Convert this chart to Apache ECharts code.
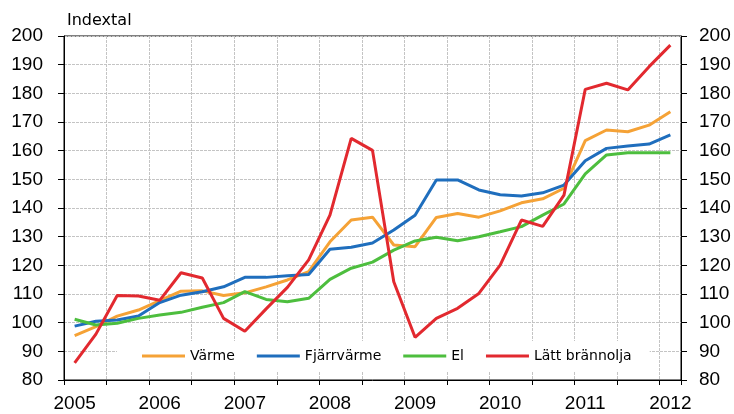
<!DOCTYPE html>
<html>
<head>
<meta charset="utf-8">
<script src="https://cdn.jsdelivr.net/npm/echarts@6/dist/echarts.min.js"></script>
<style>html,body{margin:0;padding:0;background:#fff}#c{width:734px;height:414px}</style>
</head>
<body>
<div id="c"></div>
<script>
const quarters = [];
for (let y = 2005; y <= 2012; y++) {
  for (let q = 1; q <= 4; q++) {
    if (y === 2012 && q > 1) break;
    quarters.push(y + ' Q' + q);
  }
}
const yTicks = {min: 80, max: 200, interval: 10};
const seriesNames = ['Värme', 'Fjärrvärme', 'El', 'Lätt brännolja'];
const varme = [95.5, 98.6, 102.3, 104.4, 107.7, 111.0, 111.1, 109.5, 110.4, 112.5, 114.9, 117.8, 128.2, 135.8, 136.8, 127.1, 126.5, 136.7, 138.1, 136.8, 139.0, 141.8, 143.2, 146.9, 163.5, 167.2, 166.6, 168.9, 173.6];
const fjarrvarme = [98.8, 100.5, 100.9, 102.3, 107.0, 109.6, 110.8, 112.5, 115.8, 115.8, 116.4, 116.8, 125.6, 126.3, 127.8, 132.3, 137.5, 149.8, 149.8, 146.3, 144.6, 144.2, 145.3, 148.0, 156.5, 160.8, 161.6, 162.3, 165.5];
const el = [101.2, 99.2, 99.8, 101.5, 102.7, 103.6, 105.4, 107.0, 110.8, 108.1, 107.3, 108.5, 115.1, 119.0, 121.1, 125.3, 128.5, 129.8, 128.6, 130.0, 131.7, 133.5, 137.5, 141.4, 151.9, 158.5, 159.3, 159.3, 159.3];
const lattBrannolja = [86.0, 96.0, 109.5, 109.3, 107.8, 117.4, 115.6, 101.5, 97.0, 104.8, 112.3, 121.9, 137.5, 164.3, 160.1, 114.3, 94.9, 101.5, 105.0, 110.2, 120.1, 135.8, 133.6, 144.5, 181.4, 183.5, 181.2, 189.3, 196.8];
const colors = ['#F5A236', '#1F6EBD', '#4DBE3E', '#E2292F'];
const dataSets = [varme, fjarrvarme, el, lattBrannolja];

const chart = echarts.init(document.getElementById('c'));
const tickFont = {fontFamily: 'Liberation Sans', fontSize: 19, color: '#000'};
const yCommon = {
  type: 'value', min: yTicks.min, max: yTicks.max, interval: yTicks.interval,
  axisLine: {show: true, lineStyle: {color: '#000', width: 1}},
  axisTick: {show: true, length: 6, lineStyle: {color: '#000'}},
};
chart.setOption({
  animation: false,
  backgroundColor: '#fff',
  grid: {left: 64, right: 53, top: 36, bottom: 34, show: true, borderColor: '#000', borderWidth: 1, backgroundColor: 'transparent'},
  graphic: [{type: 'text', left: 67, top: 13, style: {text: 'Indextal', font: '16px "DejaVu Sans"', fill: '#000'}}],
  legend: {
    data: seriesNames, left: 117, top: 341, orient: 'horizontal',
    backgroundColor: '#fff', padding: [8, 18, 8, 25], itemGap: 22,
    itemWidth: 43, itemHeight: 3, icon: 'rect',
    textStyle: {fontFamily: 'DejaVu Sans', fontSize: 14, color: '#000'}
  },
  xAxis: {
    type: 'category', data: quarters, boundaryGap: true,
    axisLine: {show: true, lineStyle: {color: '#000', width: 1}},
    axisTick: {show: true, interval: 1, length: 5, lineStyle: {color: '#000'}},
    splitLine: {show: true, interval: 1, lineStyle: {color: '#c4c4c4', width: 1, type: [3, 1]}},
    axisLabel: Object.assign({interval: 3, margin: 14, formatter: v => v.slice(0, 4)}, tickFont)
  },
  yAxis: [
    Object.assign({}, yCommon, {position: 'left',
      splitLine: {show: true, lineStyle: {color: '#c4c4c4', width: 1, type: [3, 1]}},
      axisLabel: Object.assign({margin: 21}, tickFont)}),
    Object.assign({}, yCommon, {position: 'right', splitLine: {show: false},
      axisLabel: Object.assign({margin: 18}, tickFont)})
  ],
  series: seriesNames.map((n, i) => ({
    name: n, type: 'line', data: dataSets[i], showSymbol: false, symbol: 'none',
    lineStyle: {color: colors[i], width: 3}, itemStyle: {color: colors[i]}, smooth: false, z: 2 + i
  }))
});
</script>
</body>
</html>
